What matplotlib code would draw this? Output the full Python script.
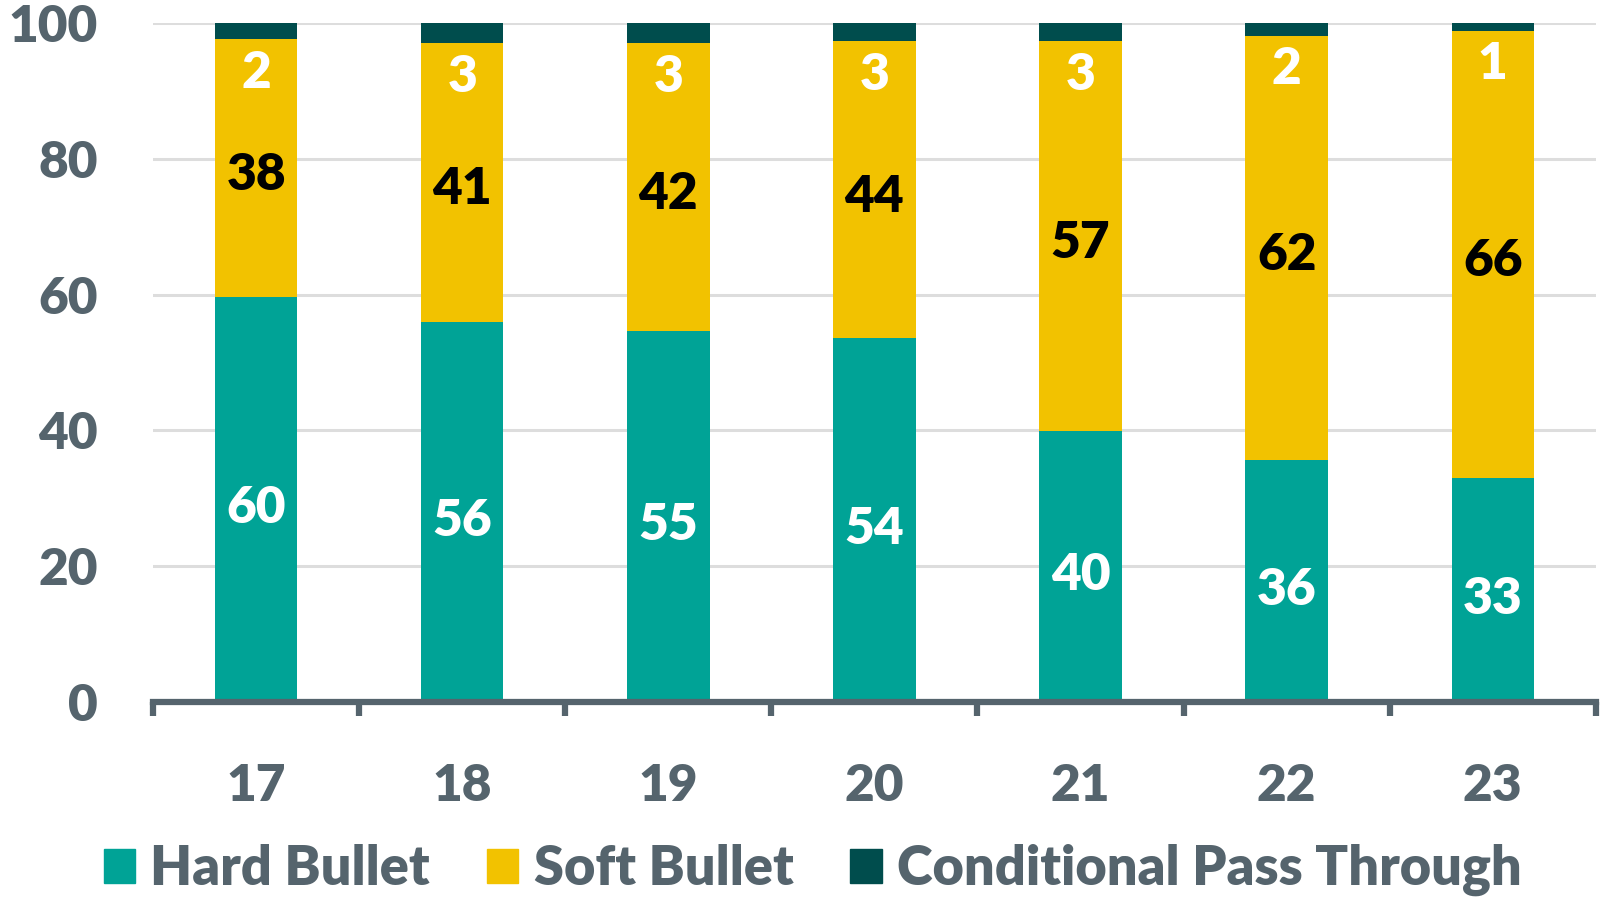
import matplotlib
matplotlib.use("Agg")
import matplotlib.pyplot as plt
import numpy as np
from matplotlib.patches import Patch

categories = ["17", "18", "19", "20", "21", "22", "23"]
hard_bullet = [59.6, 56.0, 54.6, 53.6, 39.9, 35.7, 33.0]
soft_bullet = [38.0, 41.0, 42.4, 43.7, 57.4, 62.4, 65.8]
conditional = [2.4, 3.0, 3.0, 2.7, 2.7, 1.9, 1.2]
hard_labels = ["60", "56", "55", "54", "40", "36", "33"]
soft_labels = ["38", "41", "42", "44", "57", "62", "66"]
cond_labels = ["2", "3", "3", "3", "3", "2", "1"]
yticks = [0, 20, 40, 60, 80, 100]

C_HARD = "#00A396"
C_SOFT = "#F2C200"
C_COND = "#004D4D"
C_TEXT = "#55646D"
C_GRID = "#DDDDDD"

plt.rcParams['font.family'] = ['Lato', 'DejaVu Sans']
plt.rcParams['font.weight'] = 'heavy'

fig = plt.figure(figsize=(16.03, 9.0), dpi=100)
ax = fig.add_axes([0.0955, 0.22, 0.9, 0.7544])

x = np.arange(len(categories))
h = np.array(hard_bullet)
s = np.array(soft_bullet)
c = np.array(conditional)
w = 0.4
ax.bar(x, h, width=w, color=C_HARD, zorder=3)
ax.bar(x, s, width=w, bottom=h, color=C_SOFT, zorder=3)
ax.bar(x, c, width=w, bottom=h + s, color=C_COND, zorder=3)

fs = 37
fw = 'heavy'
for i in range(len(x)):
    ax.text(x[i], h[i] / 2 - 1.3, hard_labels[i], ha='center', va='center',
            color='white', fontsize=fs, fontweight=fw, zorder=4)
    ax.text(x[i], h[i] + s[i] / 2 - 1.0, soft_labels[i], ha='center', va='center',
            color='black', fontsize=fs, fontweight=fw, zorder=4)
    ax.text(x[i], h[i] + s[i] - 4.9, cond_labels[i], ha='center', va='center',
            color='white', fontsize=fs, fontweight=fw, zorder=4)

ax.set_xlim(-0.5, 6.5)
ax.set_ylim(0, 100)
ax.set_yticks(yticks)
ax.set_yticklabels([str(v) for v in yticks])
ax.yaxis.grid(True, color=C_GRID, linewidth=2.2, zorder=0)
ax.set_axisbelow(True)
ax.tick_params(axis='y', length=0, pad=40, labelsize=fs, labelcolor=C_TEXT)

for sp in ['top', 'right', 'left']:
    ax.spines[sp].set_visible(False)
ax.spines['bottom'].set_color(C_TEXT)
ax.spines['bottom'].set_linewidth(4.5)
ax.spines['bottom'].set_zorder(5)

ax.set_xticks(np.arange(-0.5, 7.0, 1.0))
ax.set_xticklabels([])
ax.set_xticks(x, minor=True)
ax.set_xticklabels(categories, minor=True)
ax.tick_params(axis='x', which='major', length=10, width=4.5, color=C_TEXT, direction='out')
ax.tick_params(axis='x', which='minor', length=0, pad=44, labelsize=fs, labelcolor=C_TEXT)

lfs = 39
handles = [Patch(color=C_HARD, label="Hard Bullet"),
           Patch(color=C_SOFT, label="Soft Bullet"),
           Patch(color=C_COND, label="Conditional Pass Through")]
leg = fig.legend(handles=handles, loc='lower center', ncol=3, frameon=False,
                 bbox_to_anchor=(0.507, -0.05), handlelength=0.58,
                 handleheight=0.58, handletextpad=0.28, columnspacing=1.05,
                 prop={'family': ['Lato', 'DejaVu Sans'], 'weight': 'heavy', 'size': lfs})
for t in leg.get_texts():
    t.set_color(C_TEXT)

fig.savefig("out.png", dpi=100)
